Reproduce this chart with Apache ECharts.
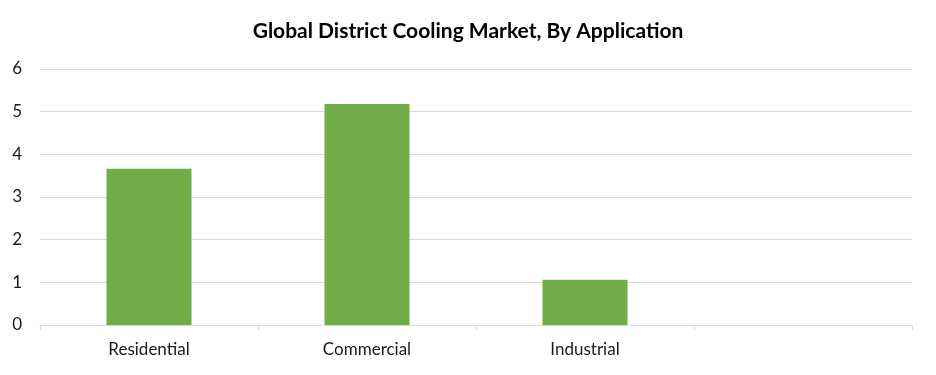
<!DOCTYPE html>
<html><head><meta charset="utf-8">
<script src="https://cdn.jsdelivr.net/npm/echarts@6/dist/echarts.min.js"></script>
<style>html,body{margin:0;padding:0;background:#fff}#c{width:936px;height:375px}</style>
</head><body><div id="c"></div>
<script>
const titleText = "Global District Cooling Market, By Application";
const categories = ["Residential", "Commercial", "Industrial", ""];
const values = [3.66, 5.18, 1.06, null];
const yTicks = [0, 1, 2, 3, 4, 5, 6];

const chart = echarts.init(document.getElementById('c'), null, {renderer: 'canvas'});
chart.setOption({
  animation: false,
  backgroundColor: '#fff',
  title: {
    text: titleText, left: 'center', top: 16,
    textStyle: {fontFamily: 'Lato', fontWeight: 'bold', fontSize: 21, color: '#000'}
  },
  grid: {left: 40, right: 24, top: 69, bottom: 50},
  xAxis: {
    type: 'category', data: categories,
    axisLine: {lineStyle: {color: '#d9d9d9'}},
    axisTick: {show: true, alignWithLabel: false, length: 5, lineStyle: {color: '#d9d9d9'}},
    axisLabel: {fontFamily: 'Lato', fontSize: 17, color: '#1a1a1a', margin: 16}
  },
  yAxis: {
    type: 'value', min: yTicks[0], max: yTicks[yTicks.length - 1], interval: 1,
    axisLine: {show: false}, axisTick: {show: false},
    axisLabel: {fontFamily: 'Lato', fontSize: 17, color: '#1a1a1a', margin: 18},
    splitLine: {lineStyle: {color: '#d9d9d9', width: 1}}
  },
  series: [{
    type: 'bar', data: values, barWidth: 85,
    itemStyle: {color: '#70ad47'}
  }]
});
</script></body></html>
